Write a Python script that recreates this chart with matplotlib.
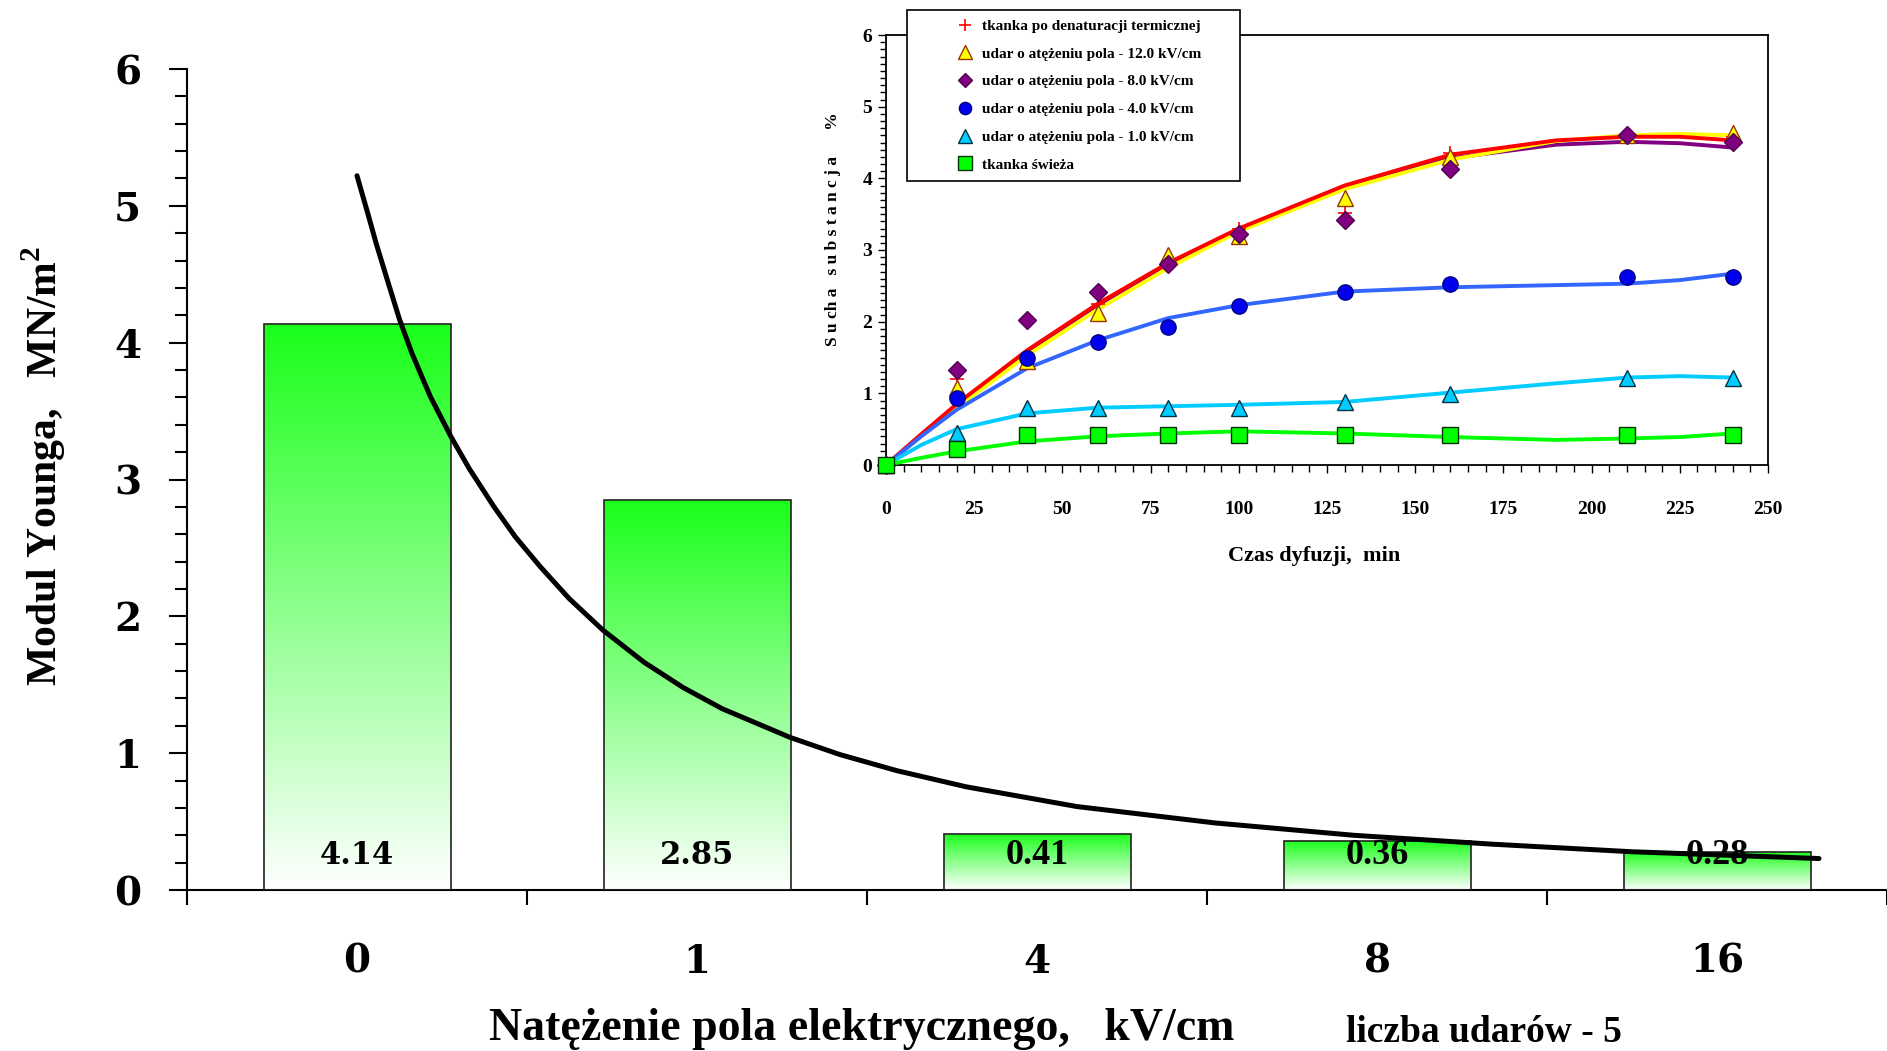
import numpy as np
import matplotlib
matplotlib.use('Agg')
import matplotlib.pyplot as plt
from matplotlib.colors import LinearSegmentedColormap
from matplotlib.ticker import MultipleLocator, FixedLocator

plt.rcParams['font.family'] = ['Liberation Serif', 'DejaVu Serif']
plt.rcParams['font.weight'] = 'bold'
plt.rcParams['mathtext.fontset'] = 'custom'
plt.rcParams['mathtext.rm'] = 'Liberation Serif:bold'

# --- main chart: Young's modulus vs field strength ---
field_labels = ['0', '1', '4', '8', '16']
young_modulus = [4.14, 2.85, 0.41, 0.36, 0.28]

# fitted decay curve (category position, value)
fit_pos = [0.0, 0.03, 0.057, 0.089, 0.125, 0.162, 0.215, 0.277, 0.33, 0.403,
           0.466, 0.54, 0.624, 0.723, 0.844, 0.959, 1.074, 1.274, 1.42, 1.588,
           1.792, 2.117, 2.524, 2.931, 3.338, 3.746, 4.3]
fit_val = [5.22, 4.96, 4.72, 4.46, 4.17, 3.92, 3.61, 3.31, 3.08, 2.80,
           2.58, 2.36, 2.13, 1.90, 1.665, 1.48, 1.325, 1.115, 0.99, 0.872,
           0.754, 0.61, 0.49, 0.40, 0.335, 0.28, 0.23]

# --- inset: dry matter vs diffusion time ---
diff_time = [0, 20, 40, 60, 80, 100, 130, 160, 210, 240]
dry_thermal = [0, 1.2, 1.5, 2.25, 2.85, 3.3, 3.52, 4.35, 4.57, 4.57]
dry_12kv = [0, 1.07, 1.45, 2.12, 2.93, 3.2, 3.72, 4.3, 4.6, 4.63]
dry_8kv = [0, 1.32, 2.02, 2.41, 2.8, 3.22, 3.42, 4.13, 4.6, 4.51]
dry_4kv = [0, 0.93, 1.5, 1.72, 1.92, 2.22, 2.42, 2.53, 2.62, 2.62]
dry_1kv = [0, 0.45, 0.79, 0.79, 0.79, 0.79, 0.88, 0.99, 1.21, 1.21]
dry_fresh = [0, 0.22, 0.42, 0.42, 0.42, 0.42, 0.42, 0.42, 0.42, 0.42]

fit_time = [0, 10, 20, 40, 60, 80, 100, 130, 160, 190, 210, 225, 240]
fit_thermal = [0, 0.43, 0.85, 1.6, 2.25, 2.82, 3.3, 3.9, 4.33, 4.53, 4.58, 4.58, 4.53]
fit_12kv = [0, 0.4, 0.8, 1.53, 2.17, 2.75, 3.26, 3.85, 4.26, 4.52, 4.6, 4.62, 4.6]
fit_8kv = [0, 0.42, 0.83, 1.58, 2.23, 2.8, 3.28, 3.88, 4.28, 4.47, 4.51, 4.49, 4.43]
fit_4kv = [0, 0.4, 0.77, 1.35, 1.74, 2.05, 2.23, 2.42, 2.48, 2.51, 2.53, 2.58, 2.67]
fit_1kv = [0, 0.28, 0.5, 0.72, 0.8, 0.82, 0.84, 0.88, 1.01, 1.14, 1.22, 1.24, 1.22]
fit_fresh = [0, 0.1, 0.19, 0.33, 0.4, 0.44, 0.47, 0.44, 0.39, 0.35, 0.37, 0.39, 0.44]

W, H = 1887, 1051
fig = plt.figure(figsize=(W / 100, H / 100), dpi=100)

ax = fig.add_axes([187 / W, 1 - 890 / H, 1 - 187 / W, (890 - 69) / H])
ax.spines['top'].set_visible(False)
ax.spines['right'].set_visible(False)
ax.spines['left'].set_linewidth(1.5)
ax.spines['bottom'].set_linewidth(1.5)

xpos = np.arange(len(field_labels))
bars = ax.bar(xpos, young_modulus, width=0.55, facecolor='none',
              edgecolor='#222222', linewidth=1.2, zorder=3)

# white-to-green vertical gradient inside each bar
green = LinearSegmentedColormap.from_list('grn', ['#ffffff', '#1aff1a'])
grad = np.linspace(0, 1, 256).reshape(-1, 1)
for rect in bars:
    x0, w, h = rect.get_x(), rect.get_width(), rect.get_height()
    im = ax.imshow(grad, cmap=green, origin='lower', aspect='auto',
                   extent=[x0, x0 + w, 0, h], zorder=2)
    im.set_clip_path(rect)

ax.plot(fit_pos, fit_val, color='black', lw=3.6, zorder=4,
        solid_capstyle='round', solid_joinstyle='round')

for i, v in enumerate(young_modulus):
    if i < 2:
        ax.text(i, 0.25, f'{v:.2f}', ha='center', va='center',
                fontsize=22, fontfamily='DejaVu Serif', zorder=5)
    else:
        ax.text(i, 0.25, f'{v:.2f}', ha='center', va='center',
                fontsize=26, zorder=5)

ax.set_xlim(-0.5, 4.5)
ax.set_ylim(0, 6)
ax.yaxis.set_major_locator(MultipleLocator(1))
ax.yaxis.set_minor_locator(MultipleLocator(0.2))
ax.set_xticks(xpos)
ax.set_xticklabels(field_labels)
ax.xaxis.set_minor_locator(FixedLocator(np.arange(-0.5, 4.6, 1)))
ax.tick_params(axis='y', which='major', length=13, width=1.5, pad=20,
               labelsize=28, labelfontfamily='DejaVu Serif')
ax.tick_params(axis='y', which='minor', length=9, width=1.5)
ax.tick_params(axis='x', which='major', length=0, pad=38,
               labelsize=28, labelfontfamily='DejaVu Serif')
ax.tick_params(axis='x', which='minor', length=11, width=1.5)

fig.text(44 / W, 1 - 466 / H, 'Modul Younga,   MN/m$^2$', rotation=90,
         ha='center', va='center', fontsize=30)
fig.text(862 / W, 1 - 1029 / H, 'Natężenie pola elektrycznego,   kV/cm',
         ha='center', va='center', fontsize=33)
fig.text(1484 / W, 1 - 1033 / H, 'liczba udarów - 5',
         ha='center', va='center', fontsize=27)

# inset
ins = fig.add_axes([886 / W, 1 - 465 / H, (1768 - 886) / W, (465 - 35) / H])
ins.set_facecolor('white')
for sp in ins.spines.values():
    sp.set_linewidth(1.3)

ins.plot(fit_time, fit_8kv, color='#800080', lw=2.8, zorder=3)
ins.plot(fit_time, fit_12kv, color='#ffff00', lw=2.8, zorder=3)
ins.plot(fit_time, fit_thermal, color='#ff0000', lw=2.8, zorder=3)
ins.plot(fit_time, fit_4kv, color='#3366ff', lw=2.8, zorder=3)
ins.plot(fit_time, fit_1kv, color='#00ccff', lw=2.8, zorder=3)
ins.plot(fit_time, fit_fresh, color='#00ff00', lw=2.8, zorder=3)

ins.plot(diff_time, dry_thermal, ls='none', marker='+', ms=10, mew=1.2,
         color='#ff0000', label='tkanka po denaturacji termicznej',
         zorder=4, clip_on=False)
ins.plot(diff_time, dry_12kv, ls='none', marker='^', ms=12, mfc='#ffff00',
         mec='#993300', mew=1, label='udar o atężeniu pola - 12.0 kV/cm',
         zorder=4, clip_on=False)
ins.plot(diff_time, dry_8kv, ls='none', marker='D', ms=9, mfc='#800080',
         mec='#500050', mew=1, label='udar o atężeniu pola - 8.0 kV/cm',
         zorder=4, clip_on=False)
ins.plot(diff_time, dry_4kv, ls='none', marker='o', ms=11, mfc='#0000ee',
         mec='#000080', mew=1, label='udar o atężeniu pola - 4.0 kV/cm',
         zorder=4, clip_on=False)
ins.plot(diff_time, dry_1kv, ls='none', marker='^', ms=12, mfc='#00ccff',
         mec='#003344', mew=1, label='udar o atężeniu pola - 1.0 kV/cm',
         zorder=4, clip_on=False)
ins.plot(diff_time, dry_fresh, ls='none', marker='s', ms=12, mfc='#00ff00',
         mec='#003300', mew=1, label='tkanka świeża',
         zorder=5, clip_on=False)

ins.set_xlim(0, 250)
ins.set_ylim(0, 6)
ins.xaxis.set_major_locator(MultipleLocator(25))
ins.xaxis.set_minor_locator(MultipleLocator(5))
ins.yaxis.set_major_locator(MultipleLocator(1))
ins.yaxis.set_minor_locator(MultipleLocator(0.1))
ins.tick_params(axis='x', which='major', length=6, width=1, pad=20, labelsize=14)
ins.tick_params(axis='x', which='minor', length=5, width=1)
ins.tick_params(axis='y', which='major', length=6, width=1, pad=4, labelsize=14)
ins.tick_params(axis='y', which='minor', length=4, width=1)

leg = ins.legend(loc='upper left',
                 bbox_to_anchor=(907 / W, 1 - 181 / H, 333 / W, 171 / H),
                 bbox_transform=fig.transFigure, mode='expand', fontsize=11,
                 handlelength=6.4, handletextpad=-2.1, labelspacing=0.92,
                 borderpad=0.6, borderaxespad=0, fancybox=False,
                 framealpha=1, edgecolor='black', markerscale=0.8)
leg.get_frame().set_linewidth(1.2)

fig.text(833 / W, 1 - 229 / H, 'S u ch a   s u b s t a n c j a      %',
         rotation=90, ha='center', va='center', fontsize=12.5)
fig.text(1314 / W, 1 - 556 / H, 'Czas dyfuzji,  min',
         ha='center', va='center', fontsize=16)

fig.savefig('out.png', dpi=100)
